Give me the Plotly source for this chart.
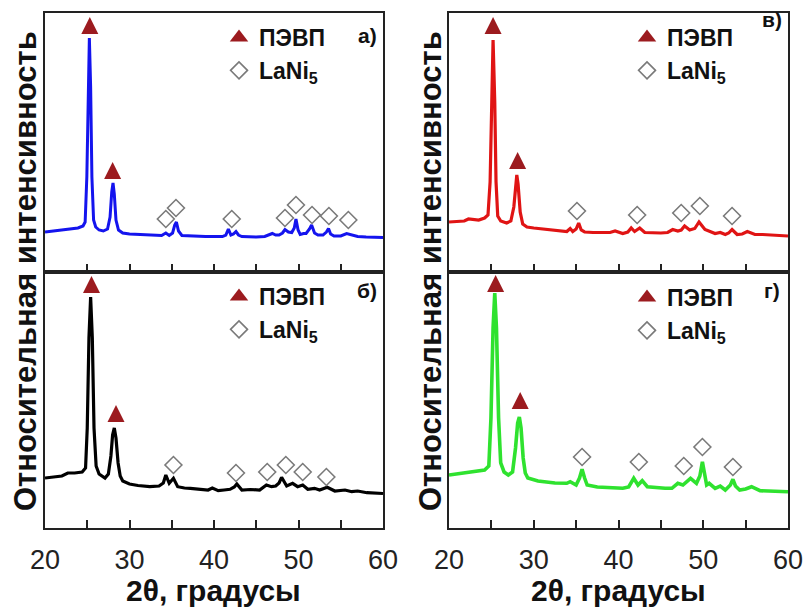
import plotly.graph_objects as go

FONT = "Liberation Sans, Arial, sans-serif"

# ---------------- panel а (blue) ----------------
a_x = [20.0, 21.0, 22.0, 23.0, 23.9, 24.5, 24.75, 24.95, 25.1, 25.25, 25.4, 25.55, 25.75, 26.0, 26.4, 26.9,
       27.4, 27.7, 27.9, 28.05, 28.2, 28.4, 28.7, 29.2, 30.0, 31.0, 32.0, 33.0, 33.8, 34.3, 34.7, 35.1,
       35.35, 35.55, 35.8, 36.2, 37.0, 38.0, 39.0, 40.0, 41.0, 41.4, 41.7, 42.0, 42.3, 42.6, 42.9, 43.3,
       44.0, 45.0, 46.0, 46.6, 46.9, 47.3, 47.7, 48.1, 48.4, 48.8, 49.2, 49.5, 49.7, 49.95, 50.2, 50.6,
       50.9, 51.3, 51.55, 51.9, 52.3, 52.9, 53.3, 53.55, 53.8, 54.2, 55.0, 55.7, 56.4, 57.0, 58.0, 59.0, 60.0]
a_y = [40, 41, 42, 43, 44, 46, 50, 95, 185, 234, 185, 95, 52, 45, 42, 41,
       43, 55, 80, 89, 78, 52, 42, 39, 38, 37.5, 37, 36.5, 36.5, 39, 36.5, 39,
       47, 50, 41, 36.5, 36, 36, 35.5, 35.5, 35.5, 37, 43, 37, 38, 40.5, 37, 35.5,
       35, 35, 35.5, 37, 38.5, 37, 37, 39, 42.5, 40, 39.5, 44, 53, 42, 37.5, 38.5,
       38.5, 43, 47, 39, 37, 37, 40, 43.5, 38, 36, 36, 38.5, 36.5, 35.5, 35, 35, 34.5]
a_tri_x = [25.3, 28.0]
a_tri_y = [255, 110]
a_dia_x = [34.3, 35.5, 42.1, 48.4, 49.7, 51.6, 53.6, 55.9]
a_dia_y = [53, 64, 53, 54, 67, 57, 56, 52]

# ---------------- panel б (black) ----------------
b_x = [20.0, 21.0, 22.0, 22.7, 23.5, 24.4, 24.8, 25.0, 25.2, 25.4, 25.6, 25.8, 26.05, 26.4, 27.1, 27.5,
       27.8, 28.0, 28.2, 28.4, 28.65, 28.9, 29.2, 30.0, 31.0, 32.4, 33.5, 34.0, 34.3, 34.7, 35.2, 35.7,
       36.5, 37.2, 38.5, 39.3, 39.8, 40.5, 41.2, 41.9, 42.4, 42.7, 43.3, 44.3, 45.4, 46.2, 46.8, 47.3,
       47.7, 48.0, 48.6, 49.3, 49.9, 50.5, 51.1, 51.9, 52.5, 53.4, 54.3, 55.0, 55.5, 56.3, 57.0, 58.1,
       59.0, 60.0]
b_y = [50, 51, 52, 55, 55, 56, 60, 100, 190, 231, 190, 100, 62, 54, 50, 54,
       72, 93, 100, 90, 65, 52, 47, 44, 42.5, 41.3, 42, 45, 53, 44.7, 49.7, 41.3,
       40, 39.7, 38.5, 38, 40, 37.3, 38, 38.7, 41, 44, 38, 38.5, 38, 43, 41.3, 42,
       45, 50.7, 42, 44.7, 41.3, 43, 38.7, 39.7, 38, 40.7, 37, 37.5, 38, 36.3, 37, 35.3,
       35, 34.5]
b_tri_x = [25.5, 28.4]
b_tri_y = [252, 123]
b_dia_x = [35.2, 42.6, 46.3, 48.5, 50.5, 53.3]
b_dia_y = [63, 55, 56, 63, 56, 51]

# ---------------- panel в (red) ----------------
c_x = [20.0, 21.0, 21.8, 22.3, 22.8, 23.5, 24.2, 24.6, 24.85, 25.0, 25.2, 25.4, 25.55, 25.75, 26.1, 26.8,
       27.3, 27.65, 27.85, 28.0, 28.15, 28.4, 28.7, 29.2, 30.0, 31.0, 32.0, 33.0, 33.9, 34.3, 34.6, 35.0,
       35.3, 35.6, 36.0, 37.0, 38.0, 39.0, 39.6, 40.5, 41.1, 41.5, 41.9, 42.5, 43.1, 44.0, 45.0, 45.8,
       46.4, 47.0, 47.4, 47.8, 48.4, 49.0, 49.5, 50.2, 50.8, 51.4, 52.0, 52.6, 53.0, 53.4, 54.0, 54.6,
       55.2, 56.1, 57.0, 58.0, 59.0, 60.0]
c_y = [50, 50.5, 51, 53, 52.5, 52, 54, 57, 90, 170, 232, 170, 90, 56, 51, 49,
       51, 65, 90, 97, 88, 60, 48, 45, 44, 43, 42, 41, 40.5, 43.5, 40.5, 43,
       49, 42, 40, 39.5, 39.5, 39.5, 41, 38.5, 40, 44, 40.5, 44, 39.5, 39, 39, 39.5,
       42.5, 41, 42, 46, 42, 43.5, 50, 42.5, 40.5, 38.5, 39.5, 37.5, 39, 42.5, 37.5, 38,
       40.5, 37.5, 37.5, 37, 36.5, 36]
c_tri_x = [25.2, 28.1]
c_tri_y = [255, 120]
c_dia_x = [35.1, 42.2, 47.4, 49.6, 53.4]
c_dia_y = [61, 57, 59, 66, 56]

# ---------------- panel г (green) ----------------
d_x = [20.0, 21.0, 22.0, 23.0, 24.2, 24.7, 24.95, 25.2, 25.4, 25.6, 25.85, 26.1, 26.5, 27.0, 27.5, 27.85,
       28.1, 28.3, 28.5, 28.75, 29.0, 29.3, 30.5, 32.5, 33.9, 34.3, 35.0, 35.4, 35.7, 36.0, 36.3, 37.5,
       39.0, 40.5, 41.2, 41.8, 42.3, 42.8, 43.4, 44.5, 45.5, 46.3, 47.0, 47.6, 48.5, 49.2, 49.6, 49.9,
       50.15, 50.4, 50.7, 51.4, 52.0, 52.6, 53.2, 53.5, 53.8, 54.3, 55.0, 55.7, 56.7, 58.0, 59.0, 60.0]
d_y = [53, 54, 55, 56, 58, 62, 110, 200, 235, 200, 110, 65, 56, 53, 56, 80,
       105, 111, 100, 70, 55, 50, 47, 45, 44.7, 46.3, 43, 50, 58.7, 50, 43, 41,
       40, 39.7, 41, 49.7, 43, 47.3, 41.3, 40, 39.7, 39.7, 44.7, 43, 49.7, 44.7, 52, 66.3,
       52, 43, 44.7, 39.7, 42, 38, 43, 48.7, 42, 38, 39, 41.3, 37.3, 37, 36.5, 36.3]
d_tri_x = [25.5, 28.4]
d_tri_y = [253, 136]
d_dia_x = [35.7, 42.4, 47.7, 49.9, 53.5]
d_dia_y = [71, 66, 62, 81, 61]

x_ticks = [20, 30, 40, 50, 60]
labels = ["а)", "б)", "в)", "г)"]
y_title = "Относительная интенсивность"
x_title = "2θ, градусы"
tri_name = "ПЭВП"
dia_name = "LaNi<sub>5</sub>"

TRI_COLOR = "#9c1b1f"
DIA_COLOR = "#7a7a7a"

panels = [
    dict(x=a_x, y=a_y, tx=a_tri_x, ty=a_tri_y, dx=a_dia_x, dy=a_dia_y, color="#1414ee",
         xa="x", ya="y", leg="legend", lw=3),
    dict(x=b_x, y=b_y, tx=b_tri_x, ty=b_tri_y, dx=b_dia_x, dy=b_dia_y, color="#000000",
         xa="x2", ya="y2", leg="legend2", lw=3.2),
    dict(x=c_x, y=c_y, tx=c_tri_x, ty=c_tri_y, dx=c_dia_x, dy=c_dia_y, color="#e01414",
         xa="x3", ya="y3", leg="legend3", lw=3.2),
    dict(x=d_x, y=d_y, tx=d_tri_x, ty=d_tri_y, dx=d_dia_x, dy=d_dia_y, color="#2fe22f",
         xa="x4", ya="y4", leg="legend4", lw=3.6),
]

fig = go.Figure()
for p in panels:
    fig.add_trace(go.Scatter(x=p["x"], y=p["y"], mode="lines", line=dict(color=p["color"], width=p["lw"]),
                             xaxis=p["xa"], yaxis=p["ya"], showlegend=False, hoverinfo="skip"))
    fig.add_trace(go.Scatter(x=p["tx"], y=p["ty"], mode="markers",
                             marker=dict(symbol="arrow-up", size=17, color=TRI_COLOR, line=dict(width=0)),
                             xaxis=p["xa"], yaxis=p["ya"], showlegend=False, hoverinfo="skip"))
    # legend-only entry for the triangle symbol
    fig.add_trace(go.Scatter(x=[None], y=[None], mode="markers", name=tri_name,
                             marker=dict(symbol="triangle-up", size=16, color=TRI_COLOR, line=dict(width=0)),
                             xaxis=p["xa"], yaxis=p["ya"], legend=p["leg"], showlegend=True))
    fig.add_trace(go.Scatter(x=p["dx"], y=p["dy"], mode="markers", name=dia_name,
                             marker=dict(symbol="diamond-open", size=13, color=DIA_COLOR,
                                         line=dict(width=1.6, color=DIA_COLOR)),
                             xaxis=p["xa"], yaxis=p["ya"], legend=p["leg"], showlegend=True,
                             hoverinfo="skip"))

W, H = 805, 607
def px(v): return v / W
def py(v): return 1 - v / H

left_dom = [px(45), px(383)]
right_dom = [px(449), px(788)]
top_dom = [py(272), py(13)]
bot_dom = [py(528), py(272)]

def xaxis(dom, anchor, labels_on):
    return dict(domain=dom, anchor=anchor, range=[20, 60], tickmode="array", tickvals=x_ticks,
                ticks="inside", ticklen=8, tickwidth=1.5, tickcolor="#222",
                minor=dict(ticks="inside", dtick=5, tick0=20, ticklen=8, tickwidth=1.5, tickcolor="#222"),
                showticklabels=labels_on, tickfont=dict(family=FONT, size=27, color="#222"),
                ticklabelstandoff=7, automargin=False,
                showline=True, mirror=True, linecolor="#222", linewidth=2,
                showgrid=False, zeroline=False, fixedrange=True)

def yaxis(dom, anchor, top):
    return dict(domain=dom, anchor=anchor, range=[0, 259] if top else [0, 256],
                showticklabels=False, ticks="", showline=True, mirror=True, automargin=False,
                linecolor="#222", linewidth=2, showgrid=False, zeroline=False, fixedrange=True)

leg_common = dict(xanchor="left", yanchor="top", bgcolor="rgba(0,0,0,0)", borderwidth=0,
                  font=dict(family=FONT, size=23, color="#111", weight="bold"),
                  itemsizing="trace", tracegroupgap=0)

annotations = []
for lab, (lx, ly) in zip(labels, [(367, 35), (367, 290), (772, 20), (772, 290)]):
    annotations.append(dict(text=lab, x=px(lx), y=py(ly), xref="paper", yref="paper",
                            showarrow=False, xanchor="center", yanchor="middle",
                            font=dict(family=FONT, size=21, color="#111", weight="bold")))
for cx in (25, 430):
    annotations.append(dict(text=y_title, x=px(cx), y=py(271), xref="paper", yref="paper",
                            showarrow=False, textangle=-90, xanchor="center", yanchor="middle",
                            font=dict(family=FONT, size=31, color="#111", weight="bold")))
for cx in (214, 618):
    annotations.append(dict(text=x_title, x=px(cx), y=py(590), xref="paper", yref="paper",
                            showarrow=False, xanchor="center", yanchor="middle",
                            font=dict(family=FONT, size=30, color="#111", weight="bold")))

fig.update_layout(
    template="none",
    width=W, height=H, autosize=False,
    margin=dict(l=0, r=0, t=0, b=0, pad=0),
    paper_bgcolor="white", plot_bgcolor="white",
    xaxis=xaxis(left_dom, "y", False),
    yaxis=yaxis(top_dom, "x", True),
    xaxis2=xaxis(left_dom, "y2", True),
    yaxis2=yaxis(bot_dom, "x2", False),
    xaxis3=xaxis(right_dom, "y3", False),
    yaxis3=yaxis(top_dom, "x3", True),
    xaxis4=xaxis(right_dom, "y4", True),
    yaxis4=yaxis(bot_dom, "x4", False),
    legend=dict(x=px(219), y=py(16), **leg_common),
    legend2=dict(x=px(219), y=py(275), **leg_common),
    legend3=dict(x=px(627), y=py(16), **leg_common),
    legend4=dict(x=px(627), y=py(276), **leg_common),
    annotations=annotations,
    showlegend=True,
)

fig.write_html("out.html", config={"displayModeBar": False},
               post_script="document.body.style.margin='0';document.body.style.overflow='hidden';")
